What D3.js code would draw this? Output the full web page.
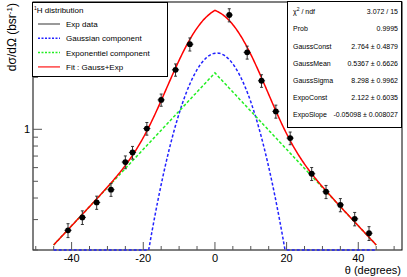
<!DOCTYPE html>
<html><head><meta charset="utf-8">
<script src="https://cdn.jsdelivr.net/npm/d3@7"></script>
<style>
html,body{margin:0;padding:0;background:#fff;}
svg{display:block;font-family:"Liberation Sans",Arial,sans-serif;}
</style></head>
<body>
<script>
// ---- data ----
const thetaDeg = [-41,-37,-33,-29,-25,-23,-19,-15,-11,-7,4,9,13,17,21,27,31,35,39,43];
const crossSection = [0.260,0.309,0.377,0.447,0.646,0.734,1.01,1.48,2.21,3.11,4.59,2.79,1.91,1.27,0.889,0.553,0.435,0.365,0.303,0.250];
const crossErr = [0.024,0.028,0.033,0.038,0.055,0.062,0.085,0.12,0.18,0.27,0.40,0.24,0.16,0.11,0.075,0.048,0.038,0.032,0.027,0.023];
const thetaErr = [1,1,1,1,1,1,1,1,1,1,1,1,1,1,1,1,1,1,1,1];
// fit parameters (from stats box)
const gaussParams = [2.764, 0.5367, 8.298]; // const, mean, sigma
const expoParams = [2.122, -0.05098];       // const, slope (in |theta|)
const fitRange = [-45, 45];
const xTicks = [-40,-20,0,20,40];
const yTicks = [1];
const statsLabels = ["χ² / ndf","Prob","GaussConst","GaussMean","GaussSigma","ExpoConst","ExpoSlope"];
const statsValues = ["3.072 / 15","0.9995","2.764 ± 0.4879","0.5367 ± 0.6626","8.298 ± 0.9962","2.122 ± 0.6035","-0.05098 ± 0.008027"];
const legendLabels = ["Exp data","Gaussian component","Exponentiel component","Fit : Gauss+Exp"];

// ---- layout ----
const W=407,H=277;
const L=33,R=402,T=2,B=250;
const svg=d3.select("body").append("svg").attr("width",W).attr("height",H);
const x=d3.scaleLinear().domain([-50.77,52.2]).range([L,R]);
const yMin=0.2,yMax=5.46;
const y=d3.scaleLog().domain([yMin,yMax]).range([B,T]);

// frame
svg.append("rect").attr("x",L).attr("y",T).attr("width",R-L).attr("height",B-T)
  .attr("fill","none").attr("stroke","#000").attr("stroke-width",1);

// x ticks
const xMinor=d3.range(-50,51,5);
svg.append("g").selectAll("line").data(xMinor).join("line")
  .attr("x1",d=>x(d)).attr("x2",d=>x(d)).attr("y1",B).attr("y2",d=>B-(d%20===0?8:4))
  .attr("stroke","#555").attr("stroke-width",1);
svg.append("g").selectAll("text").data(xTicks).join("text")
  .attr("x",d=>x(d)).attr("y",262).attr("text-anchor","middle").attr("font-size",11).text(d=>d);

// y ticks
const yMinorVals=[0.2,0.3,0.4,0.5,0.6,0.7,0.8,0.9,1,2,3,4,5];
svg.append("g").selectAll("line").data(yMinorVals).join("line")
  .attr("x1",L).attr("x2",d=>L+(d===1?9:5)).attr("y1",d=>y(d)).attr("y2",d=>y(d))
  .attr("stroke","#555").attr("stroke-width",1);
svg.append("g").selectAll("text").data(yTicks).join("text")
  .attr("x",30).attr("y",d=>y(d)+4).attr("text-anchor","end").attr("font-size",11).text(d=>d);

// axis titles
svg.append("text").attr("x",401).attr("y",274).attr("text-anchor","end").attr("font-size",11).text("θ (degrees)");
const yt=svg.append("text").attr("transform","translate(16,3) rotate(-90)").attr("text-anchor","end").attr("font-size",12);
yt.append("tspan").text("dσ/dΩ (bsr");
yt.append("tspan").attr("dy",-4).attr("font-size",8).text("-1");
yt.append("tspan").attr("dy",4).text(")");

// functions
const gauss=t=>gaussParams[0]*Math.exp(-0.5*Math.pow((t-gaussParams[1])/gaussParams[2],2));
const expo=t=>expoParams[0]*Math.exp(expoParams[1]*Math.abs(t));
const samples=d3.range(fitRange[0],fitRange[1]+0.001,0.25);
samples.push(0);samples.sort((a,b)=>a-b);
const clamp=v=>Math.max(yMin,Math.min(yMax,v));
const line=f=>d3.line().x(d=>x(d)).y(d=>y(clamp(f(d))))(samples);
const plot=svg.append("g");
plot.append("path").attr("d",line(gauss)).attr("fill","none").attr("stroke","#2222ff").attr("stroke-width",1.5).attr("stroke-dasharray","3,2");
plot.append("path").attr("d",line(expo)).attr("fill","none").attr("stroke","#22ee22").attr("stroke-width",1.5).attr("stroke-dasharray","3,2");
plot.append("path").attr("d",line(t=>gauss(t)+expo(t))).attr("fill","none").attr("stroke","#ff0000").attr("stroke-width",1.5);

// data points
const pts=thetaDeg.map((t,i)=>({t,v:crossSection[i],e:crossErr[i],te:thetaErr[i]}));
const pg=svg.append("g").attr("stroke","#333").attr("stroke-width",1);
pts.forEach(p=>{
  const cx=x(p.t),cy=y(p.v);
  const y1=y(p.v+p.e),y2=y(p.v-p.e);
  pg.append("line").attr("x1",cx).attr("x2",cx).attr("y1",y1).attr("y2",y2);
  pg.append("line").attr("x1",cx-1.5).attr("x2",cx+1.5).attr("y1",y1).attr("y2",y1);
  pg.append("line").attr("x1",cx-1.5).attr("x2",cx+1.5).attr("y1",y2).attr("y2",y2);
  pg.append("line").attr("x1",x(p.t-p.te)).attr("x2",x(p.t+p.te)).attr("y1",cy).attr("y2",cy);
});
svg.append("g").selectAll("circle").data(pts).join("circle")
  .attr("cx",d=>x(d.t)).attr("cy",d=>y(d.v)).attr("r",2.9).attr("fill","#000");

// legend
const lg=svg.append("g");
lg.append("rect").attr("x",32.5).attr("y",2.5).attr("width",135).attr("height",74).attr("fill","#fff").attr("stroke","#000");
const hd=lg.append("text").attr("x",34).attr("y",13).attr("font-size",8);
hd.append("tspan").attr("font-size",5).attr("dy",-3).text("1");
hd.append("tspan").attr("dy",3).text("H distribution");
const legStyles=[{c:"#777",d:null},{c:"#2222ff",d:"2,1.5"},{c:"#22ee22",d:"2,1.5"},{c:"#ff4444",d:null}];
legendLabels.forEach((lab,i)=>{
  const yy=24+i*14.3;
  lg.append("line").attr("x1",38).attr("x2",60).attr("y1",yy).attr("y2",yy)
    .attr("stroke",legStyles[i].c).attr("stroke-width",1.5).attr("stroke-dasharray",legStyles[i].d);
  lg.append("text").attr("x",66).attr("y",yy+3).attr("font-size",8).text(lab);
});

// stats box
const sg=svg.append("g");
sg.append("rect").attr("x",287.5).attr("y",1.5).attr("width",114).attr("height",126).attr("fill","#fff").attr("stroke","#000");
statsLabels.forEach((lab,i)=>{
  const yy=11.7+i*17.2+2.5;
  const t=sg.append("text").attr("x",293).attr("y",yy).attr("font-size",7);
  if(i===0){t.append("tspan").text("χ");t.append("tspan").attr("font-size",5).attr("dy",-3).text("2");t.append("tspan").attr("dy",3).text(" / ndf");}
  else t.text(lab);
  sg.append("text").attr("x",398).attr("y",yy).attr("text-anchor","end").attr("font-size",7).text(statsValues[i]);
});
</script>
</body></html>
